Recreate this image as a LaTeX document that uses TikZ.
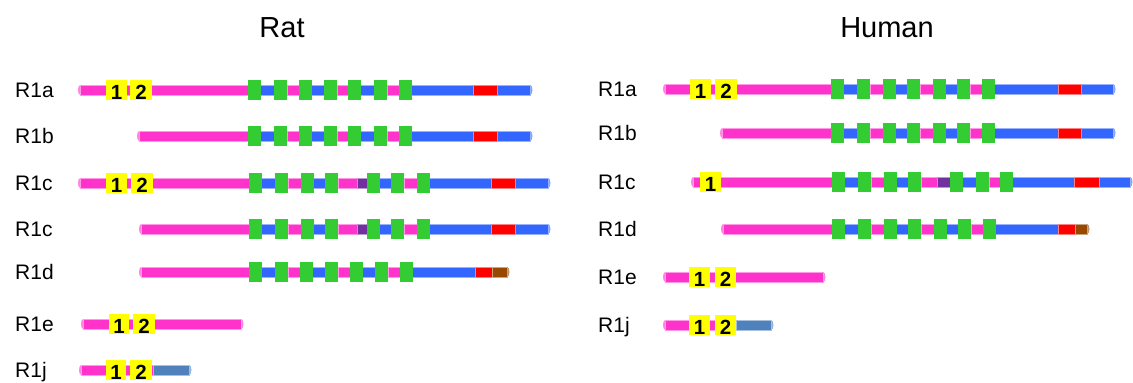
\documentclass[tikz,border=0pt]{standalone}
\usepackage{fontspec}
\setmainfont{Liberation Sans}
\definecolor{expink}{RGB}{255,51,204}
\definecolor{exblue}{RGB}{51,102,255}
\definecolor{exgreen}{RGB}{51,204,51}
\definecolor{exred}{RGB}{255,0,0}
\definecolor{exyellow}{RGB}{255,255,0}
\definecolor{expurple}{RGB}{112,48,160}
\definecolor{exbrown}{RGB}{153,72,0}
\definecolor{exsteel}{RGB}{79,129,189}
\tikzset{
  title/.style={anchor=base, inner sep=0pt, font=\fontsize{29}{29}\selectfont},
  rowlabel/.style={anchor=base west, inner sep=0pt, font=\fontsize{21}{21}\selectfont},
  digit/.style={anchor=base, inner sep=0pt, font=\fontsize{20.5}{20.5}\selectfont\bfseries},
}
% a coloured stretch of a transcript bar, 10 units thick, centred on y
\newcommand\dseg[4]{\path[fill=#1, draw=#1!50!white, line width=0.6pt] (#2,#4-5) rectangle (#3,#4+5);}
% rounded end pieces of a bar: colour, x, y
\newcommand\lcap[3]{\path[fill=#1!60!white] (#2,#3-5) arc[start angle=90, end angle=270, x radius=2pt, y radius=5pt] -- cycle;}
\newcommand\rcap[3]{\path[fill=#1!60!white] (#2,#3-5) arc[start angle=90, end angle=-90, x radius=2.5pt, y radius=5pt] -- cycle;}
% a green repeat box
\newcommand\gdom[2]{\fill[exgreen] (#1,#2-10) rectangle (#1+13,#2+10);}
% a numbered yellow box: name, left, right, y, number
\newcommand\ydom[5]{%
  \fill[exyellow] (#2,#4-10) rectangle (#3,#4+10);
  \node[digit] (#1) at ({(#2+#3)/2},#4+9.5) {#5};}
\begin{document}
\begin{tikzpicture}[x=1pt,y=-1pt]
\useasboundingbox (0,0) rectangle (1133,383);

% ---------- titles ----------
\node[title] (rat) at (282,37) {Rat};
\node[title] (human) at (887,37) {Human};

% ---------- Rat ----------
\node[rowlabel] (ra) at (15,97) {R1a};
\node[rowlabel] (rb) at (15,143) {R1b};
\node[rowlabel] (rc) at (15,190) {R1c};
\node[rowlabel] (rc2) at (15,236) {R1c};
\node[rowlabel] (rd) at (15,279) {R1d};
\node[rowlabel] (re) at (15,331) {R1e};
\node[rowlabel] (rj) at (15,377) {R1j};

% R1a
\lcap{expink}{80}{90}\rcap{exblue}{530}{90}
\dseg{expink}{80}{248}{90}
\dseg{exblue}{248}{530}{90}
\dseg{expink}{287}{299}{90}
\dseg{expink}{337}{348}{90}
\dseg{expink}{387}{399}{90}
\dseg{exred}{473}{497}{90}
\foreach \g in {248,274,299,324,348,374,399} {\gdom{\g}{90}}
\ydom{ra1}{106}{127}{90}{1}
\ydom{ra2}{130}{152}{90}{2}

% R1b
\lcap{expink}{139}{136}\rcap{exblue}{530}{136}
\dseg{expink}{139}{248}{136}
\dseg{exblue}{248}{530}{136}
\dseg{expink}{287}{299}{136}
\dseg{expink}{337}{348}{136}
\dseg{expink}{387}{399}{136}
\dseg{exred}{473}{497}{136}
\foreach \g in {248,274,299,324,348,374,399} {\gdom{\g}{136}}

% R1c
\lcap{expink}{80}{183}\rcap{exblue}{548}{183}
\dseg{expink}{80}{249}{183}
\dseg{exblue}{249}{548}{183}
\dseg{expink}{288}{301}{183}
\dseg{expink}{338}{357}{183}
\dseg{expurple}{357}{367}{183}
\dseg{expink}{404}{417}{183}
\dseg{exred}{491}{515}{183}
\foreach \g in {249,275,301,325,367,391,417} {\gdom{\g}{183}}
\ydom{rc1}{106}{127}{183}{1}
\ydom{rc2n}{131}{153}{183}{2}

% R1c (second)
\lcap{expink}{141}{229}\rcap{exblue}{548}{229}
\dseg{expink}{141}{249}{229}
\dseg{exblue}{249}{548}{229}
\dseg{expink}{288}{301}{229}
\dseg{expink}{338}{357}{229}
\dseg{expurple}{357}{367}{229}
\dseg{expink}{404}{417}{229}
\dseg{exred}{491}{515}{229}
\foreach \g in {249,275,301,325,367,391,417} {\gdom{\g}{229}}

% R1d
\lcap{expink}{141}{272}\rcap{exbrown}{507}{272}
\dseg{expink}{141}{249}{272}
\dseg{exblue}{249}{475}{272}
\dseg{expink}{288}{300}{272}
\dseg{expink}{338}{350}{272}
\dseg{expink}{388}{400}{272}
\dseg{exred}{475}{492}{272}
\dseg{exbrown}{492}{507}{272}
\foreach \g in {249,275,300,325,350,375,400} {\gdom{\g}{272}}

% R1e
\lcap{expink}{83}{324}\rcap{expink}{241}{324}
\dseg{expink}{83}{241}{324}
\ydom{re1}{109}{129}{324}{1}
\ydom{re2}{133}{155}{324}{2}

% R1j
\lcap{expink}{81}{370}\rcap{exsteel}{189}{370}
\dseg{expink}{81}{153}{370}
\dseg{exsteel}{153}{189}{370}
\ydom{rj1}{106}{126}{370}{1}
\ydom{rj2}{130}{152}{370}{2}

% ---------- Human ----------
\node[rowlabel] (ha) at (598,96) {R1a};
\node[rowlabel] (hb) at (598,140) {R1b};
\node[rowlabel] (hc) at (598,189) {R1c};
\node[rowlabel] (hd) at (598,236) {R1d};
\node[rowlabel] (he) at (598,284) {R1e};
\node[rowlabel] (hj) at (598,332) {R1j};

% R1a
\lcap{expink}{665}{89}\rcap{exblue}{1113}{89}
\dseg{expink}{665}{831}{89}
\dseg{exblue}{831}{1113}{89}
\dseg{expink}{870}{883}{89}
\dseg{expink}{920}{933}{89}
\dseg{expink}{970}{982}{89}
\dseg{exred}{1058}{1081}{89}
\foreach \g in {831,857,883,907,933,957,982} {\gdom{\g}{89}}
\ydom{ha1}{690}{711}{89}{1}
\ydom{ha2}{715}{737}{89}{2}

% R1b
\lcap{expink}{722}{133}\rcap{exblue}{1113}{133}
\dseg{expink}{722}{831}{133}
\dseg{exblue}{831}{1113}{133}
\dseg{expink}{870}{883}{133}
\dseg{expink}{920}{933}{133}
\dseg{expink}{970}{982}{133}
\dseg{exred}{1058}{1081}{133}
\foreach \g in {831,857,883,907,933,957,982} {\gdom{\g}{133}}

% R1c
\lcap{expink}{693}{182}\rcap{exblue}{1130}{182}
\dseg{expink}{693}{832}{182}
\dseg{exblue}{832}{1130}{182}
\dseg{expink}{871}{884}{182}
\dseg{expink}{921}{937}{182}
\dseg{expurple}{937}{950}{182}
\dseg{expink}{989}{1000}{182}
\dseg{exred}{1074}{1099}{182}
\foreach \g in {832,858,884,908,950,976,1000} {\gdom{\g}{182}}
\ydom{hc1}{700}{721}{182}{1}

% R1d
\lcap{expink}{723}{229}\rcap{exbrown}{1087}{229}
\dseg{expink}{723}{832}{229}
\dseg{exblue}{832}{1058}{229}
\dseg{expink}{871}{884}{229}
\dseg{expink}{921}{934}{229}
\dseg{expink}{971}{983}{229}
\dseg{exred}{1058}{1075}{229}
\dseg{exbrown}{1075}{1087}{229}
\foreach \g in {832,858,884,908,934,958,983} {\gdom{\g}{229}}

% R1e
\lcap{expink}{665}{277}\rcap{expink}{823}{277}
\dseg{expink}{665}{823}{277}
\ydom{he1}{689}{710}{277}{1}
\ydom{he2}{715}{736}{277}{2}

% R1j
\lcap{expink}{665}{325}\rcap{exsteel}{771}{325}
\dseg{expink}{665}{736}{325}
\dseg{exsteel}{736}{771}{325}
\ydom{hj1}{689}{710}{325}{1}
\ydom{hj2}{715}{736}{325}{2}
\end{tikzpicture}
\end{document}
